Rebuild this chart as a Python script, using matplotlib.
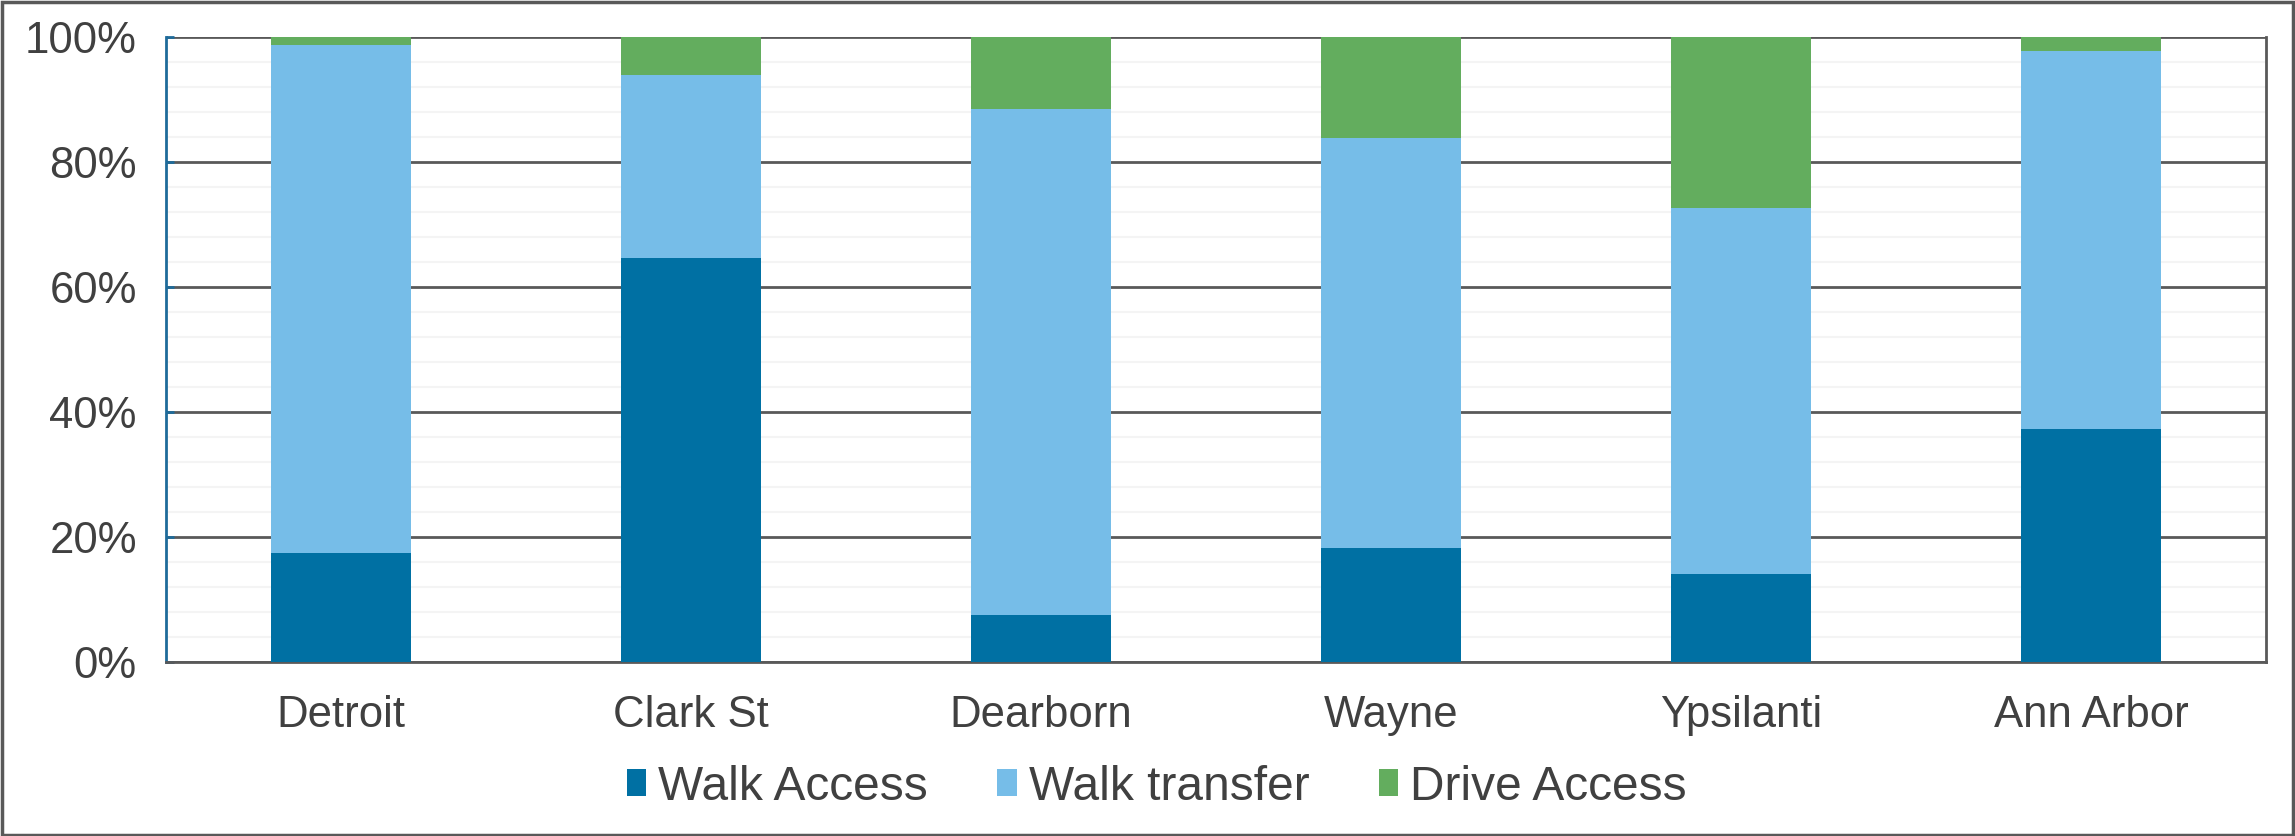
import matplotlib.pyplot as plt
import numpy as np
from matplotlib.patches import Rectangle
from matplotlib.ticker import MultipleLocator, FuncFormatter

plt.rcParams["font.family"] = ["Liberation Sans", "DejaVu Sans"]

stations = ["Detroit", "Clark St", "Dearborn", "Wayne", "Ypsilanti", "Ann Arbor"]
walk_access = [17.5, 64.6, 7.5, 18.3, 14.1, 37.2]
walk_transfer = [81.2, 29.3, 81.0, 65.6, 58.5, 60.6]
drive_access = [1.3, 6.1, 11.5, 16.1, 27.4, 2.2]

series = [
    ("Walk Access", walk_access, "#0070A3"),
    ("Walk transfer", walk_transfer, "#76BDE8"),
    ("Drive Access", drive_access, "#63AD5E"),
]
TEXT = "#404040"
GRID = "#595959"

fig = plt.figure(figsize=(22.95, 8.36), dpi=100)
ax = fig.add_axes([166 / 2295, 1 - 662 / 836, 2100 / 2295, 625 / 836])

x = np.arange(len(stations))
bottom = np.zeros(len(stations))
for label, vals, color in series:
    vals = np.array(vals)
    ax.bar(x, vals, 0.40, bottom=bottom, color=color, label=label, zorder=3)
    bottom += vals

ax.set_xlim(-0.5, len(stations) - 0.5)
ax.set_ylim(0, 100)
ax.yaxis.set_major_locator(MultipleLocator(20))
ax.yaxis.set_minor_locator(MultipleLocator(4))
ax.yaxis.set_major_formatter(FuncFormatter(lambda v, p: f"{v:.0f}%"))
ax.grid(axis="y", which="major", color=GRID, lw=2, zorder=1)
ax.grid(axis="y", which="minor", color="#F4F4F4", lw=1.5, zorder=0)

ax.set_xticks(x)
ax.set_xticklabels(stations)
ax.tick_params(axis="x", length=0, pad=24, labelsize=31.5, colors=TEXT)
ax.tick_params(axis="y", which="major", direction="in", length=6, width=2,
               color="#1F6B9A", pad=21, labelsize=31.5, labelcolor=TEXT)
ax.tick_params(axis="y", which="minor", length=0)

ax.spines["top"].set_visible(False)
ax.spines["left"].set_color("#1F6B9A")
ax.spines["left"].set_linewidth(2)
ax.spines["bottom"].set_color(GRID)
ax.spines["bottom"].set_linewidth(2)
ax.spines["right"].set_color(GRID)
ax.spines["right"].set_linewidth(2)

fig.legend(loc="center", bbox_to_anchor=(0.504, 1 - 787 / 836), ncol=3,
           frameon=False, fontsize=34.5, handlelength=0.4, handleheight=0.5,
           handletextpad=0.25, columnspacing=1.45, labelcolor=TEXT)

fig.patches.append(Rectangle((0.001, 0.001), 0.998, 0.997, transform=fig.transFigure,
                             fill=False, edgecolor="#595959", lw=2.5))

fig.savefig("out.png", dpi=100)
